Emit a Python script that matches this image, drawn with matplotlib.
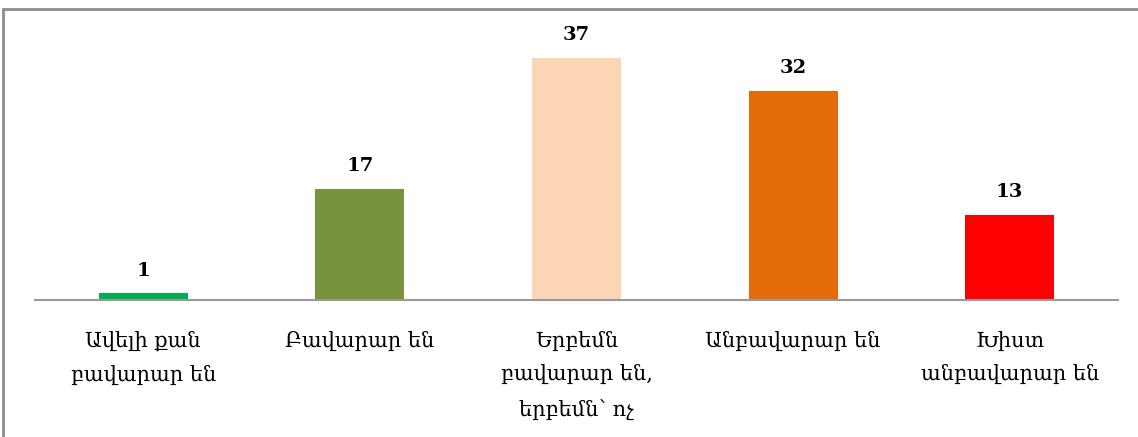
import matplotlib
matplotlib.use("Agg")
import matplotlib.pyplot as plt
from matplotlib.patches import Rectangle

#chart data
categories = ["Ավելի քան\nբավարար են", "Բավարար են", "Երբեմն\nբավարար են,\nերբեմն՝ ոչ",
              "Անբավարար են", "Խիստ\nանբավարար են"]
values = [1, 17, 37, 32, 13]
colors = ["#00B050", "#77933C", "#FCD5B5", "#E46C0A", "#FF0000"]

plt.rcParams['font.family'] = ['DejaVu Serif', 'DejaVu Sans']

fig = plt.figure(figsize=(11.38, 4.37), dpi=100)
ax = fig.add_axes([35/1138, 1 - 300/437, (1118-35)/1138, 290/437])

x = list(range(len(values)))
bars = ax.bar(x, values, width=0.41, color=colors)
for b, v in zip(bars, values):
    ax.annotate(str(v), (b.get_x() + b.get_width()/2, v), xytext=(0, 10),
                textcoords="offset points", ha="center", va="bottom",
                fontsize=14, fontweight="bold")

ax.set_xlim(-0.5, len(values) - 0.5)
ax.set_ylim(0, 44.3)
ax.set_xticks(x)
ax.set_xticklabels(categories, fontsize=15, linespacing=1.85)
ax.tick_params(axis="x", length=0, pad=22)
ax.set_yticks([])
for s in ["top", "right", "left"]:
    ax.spines[s].set_visible(False)
ax.spines["bottom"].set_color("#999999")
ax.spines["bottom"].set_linewidth(1.5)

#outer frame of the chart area
fig.patches.append(Rectangle((3/1138, -0.1), 1.2, 1 - 9/437 + 0.1, transform=fig.transFigure,
                             fill=False, edgecolor="#8c8c8c", linewidth=2))

fig.savefig("out.png", dpi=100)
